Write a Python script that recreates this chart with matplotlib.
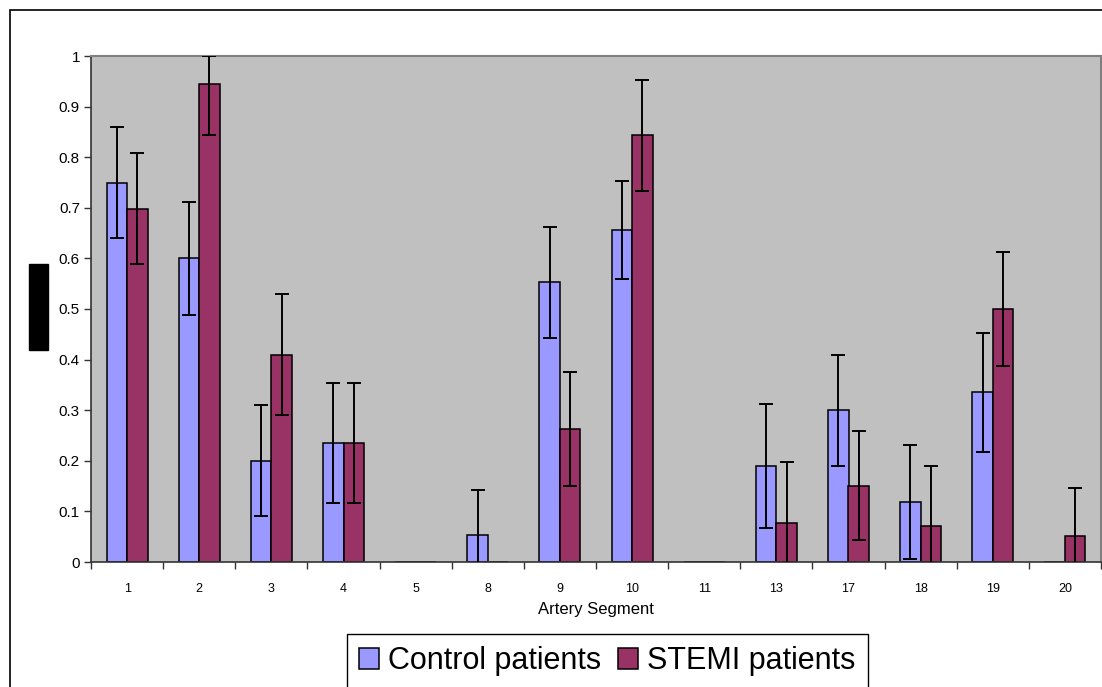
import matplotlib
matplotlib.use('Agg')
import matplotlib.pyplot as plt
import numpy as np
from matplotlib.patches import Rectangle
from matplotlib.ticker import FixedLocator, FormatStrFormatter

plt.rcParams['font.family'] = ['Liberation Sans', 'DejaVu Sans']

# artery segments and mean values
segments = ['1', '2', '3', '4', '5', '8', '9', '10', '11', '13', '17', '18', '19', '20']
control = [0.75, 0.60, 0.20, 0.235, 0, 0.053, 0.553, 0.656, 0, 0.19, 0.30, 0.118, 0.335, 0]
control_err = [0.109, 0.112, 0.11, 0.118, 0, 0.089, 0.11, 0.097, 0, 0.122, 0.11, 0.113, 0.117, 0]
stemi = [0.698, 0.944, 0.41, 0.235, 0, 0, 0.263, 0.843, 0, 0.077, 0.151, 0.071, 0.50, 0.052]
stemi_err = [0.11, 0.1, 0.12, 0.118, 0, 0, 0.113, 0.11, 0, 0.121, 0.108, 0.119, 0.113, 0.095]

c_ctrl = '#9999FF'
c_stemi = '#993366'

fig = plt.figure(figsize=(11.02, 6.87), dpi=100)
ax = fig.add_axes([91 / 1102, 1 - 562 / 687, 1010 / 1102, 506 / 687])
ax.set_facecolor('#C0C0C0')

x = np.arange(len(segments))
w = 0.285

def draw(xpos, vals, errs, color, label):
    vals = np.array(vals)
    errs = np.array(errs)
    ax.bar(xpos, vals, w, color=color, edgecolor='black', linewidth=1.1,
           label=label, zorder=2)
    m = errs > 0
    # excel stops the bar at the top of the axis
    up = np.minimum(vals + errs, 1.0) - vals
    ax.errorbar(xpos[m], vals[m], yerr=[errs[m], up[m]], fmt='none',
                ecolor='black', elinewidth=1.4, capsize=4.8, capthick=1.4,
                zorder=3)

draw(x - w / 2, control, control_err, c_ctrl, 'Control patients')
draw(x + w / 2, stemi, stemi_err, c_stemi, 'STEMI patients')

ax.set_xlim(-0.5, len(segments) - 0.5)
ax.set_ylim(0, 1)
ax.set_yticks(np.arange(0, 1.01, 0.1))
ax.yaxis.set_major_formatter(FormatStrFormatter('%g'))
ax.tick_params(axis='y', direction='out', length=5, width=1, colors='#333333',
               labelcolor='black', labelsize=11, pad=3)

ax.set_xticks(x)
ax.set_xticklabels(segments)
ax.xaxis.set_minor_locator(FixedLocator(np.arange(-0.5, len(segments), 1)))
ax.tick_params(axis='x', which='major', length=0, labelsize=9, pad=15)
ax.tick_params(axis='x', which='minor', direction='out', length=5, width=1,
               colors='#333333')

ax.set_xlabel('Artery Segment', fontsize=12, labelpad=5)

for s in ['left', 'bottom']:
    ax.spines[s].set_color('#333333')
    ax.spines[s].set_linewidth(1.2)
for s in ['top', 'right']:
    ax.spines[s].set_color('#808080')
    ax.spines[s].set_linewidth(1.5)

leg = fig.legend(loc='upper left', bbox_to_anchor=(347 / 1102, 1 - 634 / 687),
                 ncol=2, fontsize=22, frameon=True, fancybox=False,
                 edgecolor='black', framealpha=1, handlelength=0.65,
                 handleheight=0.65, handletextpad=0.3, columnspacing=0.55,
                 borderpad=0.4, borderaxespad=0)
leg.get_frame().set_linewidth(1.0)

# outer chart frame
fig.add_artist(Rectangle((10 / 1102, -0.1), 1.2, 1 - 10 / 687 + 0.1,
                         transform=fig.transFigure, fill=False,
                         edgecolor='black', linewidth=1.2))
# the hidden y label
fig.add_artist(Rectangle((29 / 1102, 1 - 350 / 687), 19 / 1102, 86 / 687,
                         transform=fig.transFigure, color='black'))

fig.savefig('out.png', dpi=100)
